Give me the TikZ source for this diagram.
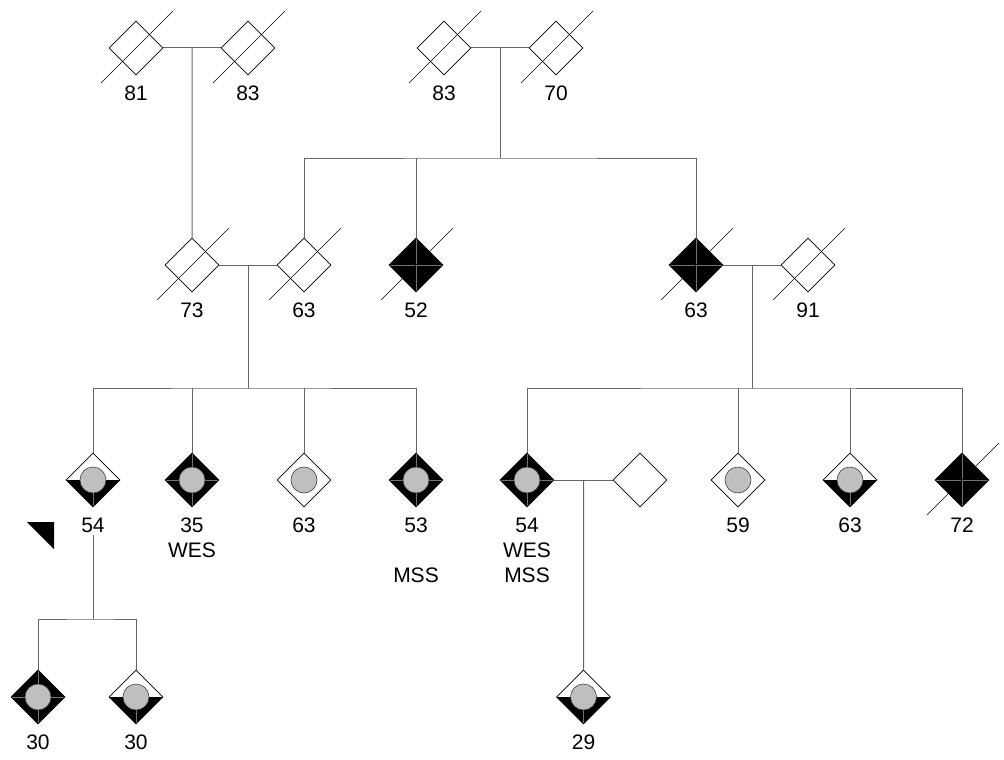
\documentclass[tikz,border=0pt]{standalone}
\usepackage{fontspec}
\setmainfont{Liberation Sans}
\usetikzlibrary{shapes.geometric, positioning}

% inside of a person symbol
\newcommand{\qcross}{\draw[black!55, line width=0.5pt] (path picture bounding box.north) -- (path picture bounding box.south) (path picture bounding box.west) -- (path picture bounding box.east);}
\newcommand{\qlower}{\fill[black] (path picture bounding box.west) -- (path picture bounding box.east) -- (path picture bounding box.south) -- cycle; \draw[black!55, line width=0.5pt] (path picture bounding box.center) -- (path picture bounding box.south);}
\newcommand{\qdot}{\filldraw[fill=gray!50, draw=black!75, line width=0.6pt] (path picture bounding box.center) circle (13pt);}

\tikzset{
  ind/.style={diamond, draw, line width=0.7pt, inner sep=0pt, minimum size=54pt},
  aff/.style={ind, fill=black, path picture={\qcross}},
  affdot/.style={ind, fill=black, path picture={\qcross \qdot}},
  halfdot/.style={ind, path picture={\qlower \qdot}},
  dot/.style={ind, path picture={\qdot}},
  lab/.style={font=\fontsize{21}{25}\selectfont, inner sep=0pt, align=center},
  conn/.style={draw=black!60, line width=1pt},
  slash/.style={line width=0.6pt},
}

\begin{document}
\begin{tikzpicture}[x=1pt, y=-1pt]
	\useasboundingbox (0,0) rectangle (1004,760);
	% generation I
	\node[ind] (gpA) at (136,48) {};
	\node[ind] (gmA) at (248,48) {};
	\node[ind] (gpB) at (444,48) {};
	\node[ind] (gmB) at (556,48) {};
	% generation II
	\node[ind] (f73) at (192,265) {};
	\node[ind] (m63) at (304,265) {};
	\node[aff] (u52) at (416,265) {};
	\node[aff] (a63) at (696,265) {};
	\node[ind] (s91) at (808,265) {};
	% generation III
	\node[halfdot] (c54) at (93,480) {};
	\node[affdot] (c35) at (192,480) {};
	\node[dot] (c63) at (304,480) {};
	\node[affdot] (c53) at (416,480) {};
	\node[affdot] (d54) at (527,480) {};
	\node[ind] (p) at (640,480) {};
	\node[dot] (d59) at (738,480) {};
	\node[halfdot] (d63) at (850,480) {};
	\node[aff] (d72) at (962,480) {};
	% generation IV
	\node[affdot] (g30a) at (38,697) {};
	\node[halfdot] (g30b) at (136,697) {};
	\node[halfdot] (g29) at (583.5,697) {};
	% deceased
	\draw[slash] (gpA.center) +(-35,35) -- +(37,-37);
	\draw[slash] (gmA.center) +(-35,35) -- +(37,-37);
	\draw[slash] (gpB.center) +(-35,35) -- +(37,-37);
	\draw[slash] (gmB.center) +(-35,35) -- +(37,-37);
	\draw[slash] (f73.center) +(-35,35) -- +(37,-37);
	\draw[slash] (m63.center) +(-35,35) -- +(37,-37);
	\draw[slash] (u52.center) +(-35,35) -- +(37,-37);
	\draw[slash] (a63.center) +(-35,35) -- +(37,-37);
	\draw[slash] (s91.center) +(-35,35) -- +(37,-37);
	\draw[slash] (d72.center) +(-35,35) -- +(37,-37);
	% ages
	\node[lab, below=10pt of gpA] (tgpA) {81};
	\node[lab, below=10pt of gmA] (tgmA) {83};
	\node[lab, below=10pt of gpB] (tgpB) {83};
	\node[lab, below=10pt of gmB] (tgmB) {70};
	\node[lab, below=10pt of f73] (tf73) {73};
	\node[lab, below=10pt of m63] (tm63) {63};
	\node[lab, below=10pt of u52] (tu52) {52};
	\node[lab, below=10pt of a63] (ta63) {63};
	\node[lab, below=10pt of s91] (ts91) {91};
	\node[lab, below=10pt of c54] (tc54) {54};
	\node[lab, below=10pt of c35] (tc35) {35\\WES};
	\node[lab, below=10pt of c63] (tc63) {63};
	\node[lab, below=10pt of c53] (tc53) {53\\[25pt]MSS};
	\node[lab, below=10pt of d54] (td54) {54\\WES\\MSS};
	\node[lab, below=10pt of d59] (td59) {59};
	\node[lab, below=10pt of d63] (td63) {63};
	\node[lab, below=10pt of d72] (td72) {72};
	\node[lab, below=10pt of g30a] (tg30a) {30};
	\node[lab, below=10pt of g30b] (tg30b) {30};
	\node[lab, below=10pt of g29] (tg29) {29};
	% proband
	\fill (27,522) -- (54,522) -- (54,549) -- cycle;
	% lines of descent
	\draw[conn] (gpA) -- coordinate (cA) (gmA);
	\draw[conn] (cA) -- (f73);
	\draw[conn] (gpB) -- coordinate (cB) (gmB);
	\draw[conn] (cB) -- ++(0,110) coordinate (sibB);
	\draw[conn] (m63) |- (sibB) -| (a63);
	\draw[conn] (u52) -- (u52 |- sibB);
	\draw[conn] (f73) -- coordinate (cC) (m63);
	\draw[conn] (cC) -- ++(0,123) coordinate (sibC);
	\draw[conn] (c54) |- (sibC) -| (c53);
	\draw[conn] (c35) -- (c35 |- sibC);
	\draw[conn] (c63) -- (c63 |- sibC);
	\draw[conn] (a63) -- coordinate (cD) (s91);
	\draw[conn] (cD) -- ++(0,123) coordinate (sibD);
	\draw[conn] (d54) |- (sibD) -| (d72);
	\draw[conn] (d59) -- (d59 |- sibD);
	\draw[conn] (d63) -- (d63 |- sibD);
	\draw[conn] (d54) -- coordinate (cE) (p);
	\draw[conn] (cE) -- (g29);
	\draw[conn] ([yshift=-3pt]tc54.south) -- (tc54 |- 0,619) coordinate (sibF);
	\draw[conn] (g30a) |- (sibF) -| (g30b);
\end{tikzpicture}
\end{document}
